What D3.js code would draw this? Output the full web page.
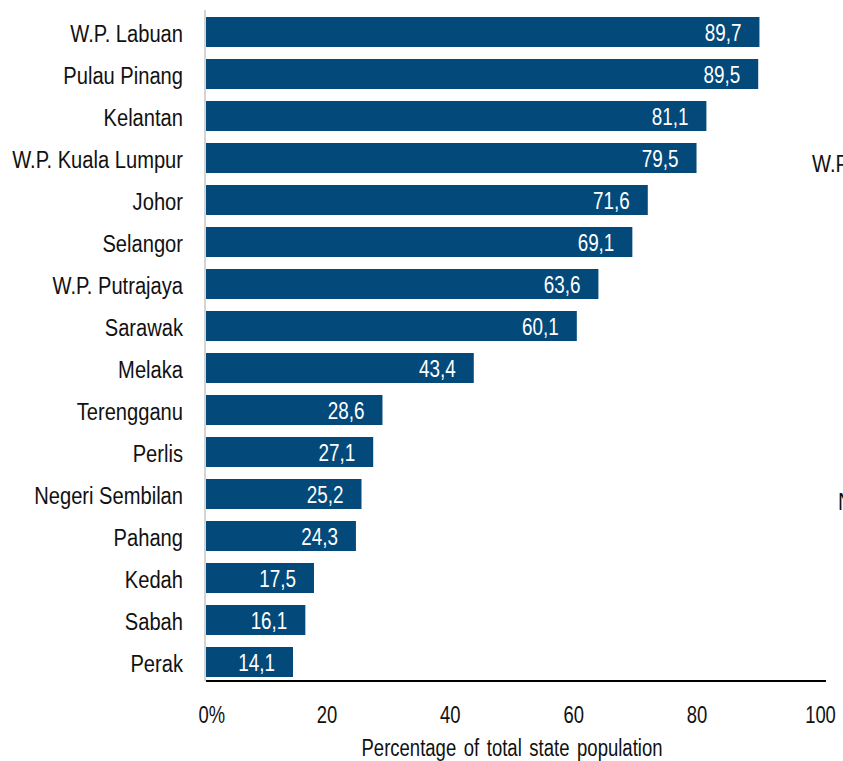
<!DOCTYPE html>
<html>
<head>
<meta charset="utf-8">
<script src="https://cdn.jsdelivr.net/npm/d3@7/dist/d3.min.js"></script>
<style>
  html, body { margin: 0; padding: 0; background: #fff; overflow: hidden; }
  svg { display: block; }
  text { font-family: "Liberation Sans Narrow", "Arial Narrow", "Liberation Sans", Arial, sans-serif; }
</style>
</head>
<body>
<svg id="chart" width="843" height="761"></svg>
<script>
// States, ordered from highest to lowest share
const states = [
  "W.P. Labuan", "Pulau Pinang", "Kelantan", "W.P. Kuala Lumpur", "Johor",
  "Selangor", "W.P. Putrajaya", "Sarawak", "Melaka", "Terengganu",
  "Perlis", "Negeri Sembilan", "Pahang", "Kedah", "Sabah", "Perak"
];
const shares = [89.7, 89.5, 81.1, 79.5, 71.6, 69.1, 63.6, 60.1, 43.4, 28.6, 27.1, 25.2, 24.3, 17.5, 16.1, 14.1];
const xTicks = [0, 20, 40, 60, 80, 100];
const xTitle = "Percentage of total state population";
// Labels of the neighbouring panel, cut off at the right edge
const sideLabels = ["W.P. Kuala Lumpur", "Negeri Sembilan"];

const data = states.map((s, i) => ({ state: s, value: shares[i] }));

const svg = d3.select("#chart");
const barColor = "#03497A";
const FS = 23;

// Narrow look: squeeze each label horizontally
function condense(sel, k) {
  sel.each(function () {
    const w = this.getComputedTextLength();
    this.setAttribute("textLength", (w * k).toFixed(1));
    this.setAttribute("lengthAdjust", "spacingAndGlyphs");
  });
}

const x = d3.scaleLinear().domain([0, 100]).range([206, 823]);
const y = d3.scaleBand().domain(states).range([11, 683]).paddingInner(12 / 42).paddingOuter(6 / 42);

// Light vertical baseline at zero
svg.append("line")
  .attr("x1", 205).attr("x2", 205)
  .attr("y1", 10).attr("y2", 681)
  .attr("stroke", "#d4d4d4").attr("stroke-width", 2);

// Bars
svg.append("g").selectAll("rect")
  .data(data).join("rect")
  .attr("x", x(0))
  .attr("y", d => y(d.state))
  .attr("width", d => x(d.value) - x(0))
  .attr("height", y.bandwidth())
  .attr("fill", barColor);

// Value labels inside the bars
svg.append("g").selectAll("text")
  .data(data).join("text")
  .attr("x", d => x(d.value) - 18)
  .attr("y", d => y(d.state) + y.bandwidth() / 2 + 9)
  .attr("text-anchor", "end")
  .attr("fill", "#ffffff")
  .attr("font-size", FS)
  .text(d => d.value.toFixed(1).replace(".", ","))
  .call(condense, 0.82);

// Category axis (labels only)
const yAxis = svg.append("g")
  .attr("transform", "translate(183,0)")
  .call(d3.axisLeft(y).tickSize(0).tickPadding(0));
yAxis.select(".domain").remove();
yAxis.selectAll("text")
  .attr("font-size", FS)
  .attr("fill", "#111")
  .attr("dy", "0.42em")
  .call(condense, 0.875);

// Value axis
const xAxis = svg.append("g")
  .attr("transform", "translate(0,681)")
  .call(d3.axisBottom(x).tickValues(xTicks).tickSize(0).tickPadding(0)
    .tickFormat(d => d === 0 ? "0%" : d));
xAxis.select(".domain")
  .attr("d", `M${x(0)},0H826`)
  .attr("stroke", "#000").attr("stroke-width", 2);
xAxis.selectAll(".tick text")
  .attr("font-size", FS)
  .attr("fill", "#111")
  .attr("y", 42)
  .attr("dy", 0)
  .attr("dx", -3)
  .call(condense, 0.8);
xAxis.selectAll(".tick text").filter(d => d === 0)
  .attr("text-anchor", "start")
  .attr("dx", -8);

// Axis title
svg.append("text")
  .attr("x", 512)
  .attr("y", 756)
  .attr("text-anchor", "middle")
  .attr("font-size", FS)
  .attr("fill", "#111")
  .attr("word-spacing", 3)
  .text(xTitle)
  .call(condense, 0.805);

// Neighbouring panel labels
svg.append("text")
  .attr("x", 812).attr("y", 172)
  .attr("font-size", FS).attr("fill", "#111")
  .text(sideLabels[0])
  .call(condense, 0.875);
svg.append("text")
  .attr("x", 838).attr("y", 510)
  .attr("font-size", FS).attr("fill", "#111")
  .text(sideLabels[1])
  .call(condense, 0.875);
</script>
</body>
</html>
